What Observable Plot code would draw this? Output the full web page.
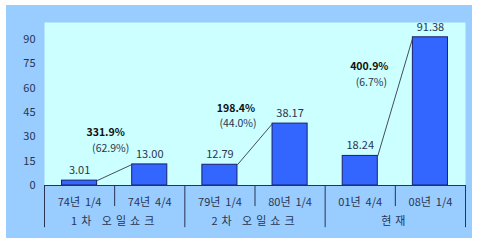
<!DOCTYPE html>
<html>
<head>
<meta charset="utf-8">
<script src="https://cdn.jsdelivr.net/npm/d3@7"></script>
<script src="https://cdn.jsdelivr.net/npm/@observablehq/plot@0.6"></script>
<style>
  html, body { margin: 0; padding: 0; background: #fff; }
  #wrap { position: relative; width: 480px; height: 246px; overflow: hidden; }
  #box { position: absolute; left: 6px; top: 5px; width: 466px; height: 233px; background: #99ccff; }
  #chart { position: absolute; left: 0; top: 0; }
</style>
</head>
<body>
<div id="wrap"><div id="box"></div><div id="chart"></div></div>
<script>
const categories = ["74년\u00a0\u00a01/4", "74년\u00a0\u00a04/4", "79년\u00a0\u00a01/4", "80년\u00a0\u00a01/4", "01년\u00a0\u00a04/4", "08년\u00a0\u00a01/4"];
const values = [3.01, 13.00, 12.79, 38.17, 18.24, 91.38];
const valueLabels = ["3.01", "13.00", "12.79", "38.17", "18.24", "91.38"];
const groups = ["1차 오일쇼크", "2차 오일쇼크", "현재"];
const growthLabels = ["331.9%", "198.4%", "400.9%"];
const shareLabels = ["(62.9%)", "(44.0%)", "(6.7%)"];
const yTicks = [0, 15, 30, 45, 60, 75, 90];

const bars = values.map((v, i) => ({i, v, label: valueLabels[i], cat: categories[i]}));
const pairs = groups.map((g, k) => ({
  k, g,
  a: 2 * k, b: 2 * k + 1,
  va: values[2 * k], vb: values[2 * k + 1],
  mid: 2 * k + 0.5,
  mean: (values[2 * k] + values[2 * k + 1]) / 2,
  growth: growthLabels[k], share: shareLabels[k]
}));

// per-annotation pixel nudges (styling only)
const gOff = [[-9, -40], [-19, -36], [-26, -30]];
const sOff = [[-4, -24], [-17, -21], [-24, -14]];

const font = "'Noto Sans CJK KR', 'DejaVu Sans', sans-serif";
const ink = "#2a3450";

const marks = [
  Plot.frame({fill: "#ccffff"}),
  Plot.rectY(bars, {x1: d => d.i - 0.25, x2: d => d.i + 0.25, y1: 0, y2: "v", fill: "#3366ff", stroke: "#1a1f6e", strokeWidth: 1}),
  Plot.link(pairs, {x1: d => d.a + 0.25, y1: "va", x2: d => d.b - 0.25, y2: "vb", stroke: "#333a48", strokeWidth: 0.9}),
  Plot.text(bars, {x: "i", y: "v", text: "label", dy: -10, fill: ink, fontSize: 11}),
  Plot.ruleY([0], {stroke: ink, strokeWidth: 1.2}),
  Plot.ruleX([0.5, 2.5, 4.5], {x: d => d, y1: 0, y2: -13, stroke: ink, strokeWidth: 1, clip: false}),
  Plot.ruleX([-0.5, 1.5, 3.5, 5.5], {x: d => d, y1: 0, y2: -26, stroke: ink, strokeWidth: 1, clip: false}),
  Plot.axisY({ticks: yTicks, tickSize: 0, tickPadding: 9, fontSize: 11, fill: ink, label: null}),
  Plot.axisX({ticks: d3.range(categories.length), tickFormat: i => categories[i], tickSize: 0, tickPadding: 13, fontSize: 11, fill: ink, label: null}),
  Plot.text(pairs, {x: "mid", y: 0, text: "g", dy: 36, fill: ink, fontSize: 11, clip: false})
];
pairs.forEach((p, k) => {
  marks.push(Plot.text([p], {x: "mid", y: "mean", text: "growth", dx: gOff[k][0], dy: gOff[k][1], fontWeight: "bold", fontSize: 10.5, fill: "#111"}));
  marks.push(Plot.text([p], {x: "mid", y: "mean", text: "share", dx: sOff[k][0], dy: sOff[k][1], fontSize: 10.5, fill: ink}));
});

const chart = Plot.plot({
  width: 480,
  height: 246,
  marginLeft: 44,
  marginRight: 15,
  marginTop: 22,
  marginBottom: 61,
  style: {background: "transparent", fontFamily: font, fontSize: "11px", overflow: "visible"},
  x: {type: "linear", domain: [-0.5, 5.5]},
  y: {domain: [0, 100.5]},
  marks
});
d3.select(chart).selectAll("text")
  .filter(function() { return groups.includes(this.textContent); })
  .style("letter-spacing", "4px");
document.getElementById("chart").appendChild(chart);
</script>
</body>
</html>
